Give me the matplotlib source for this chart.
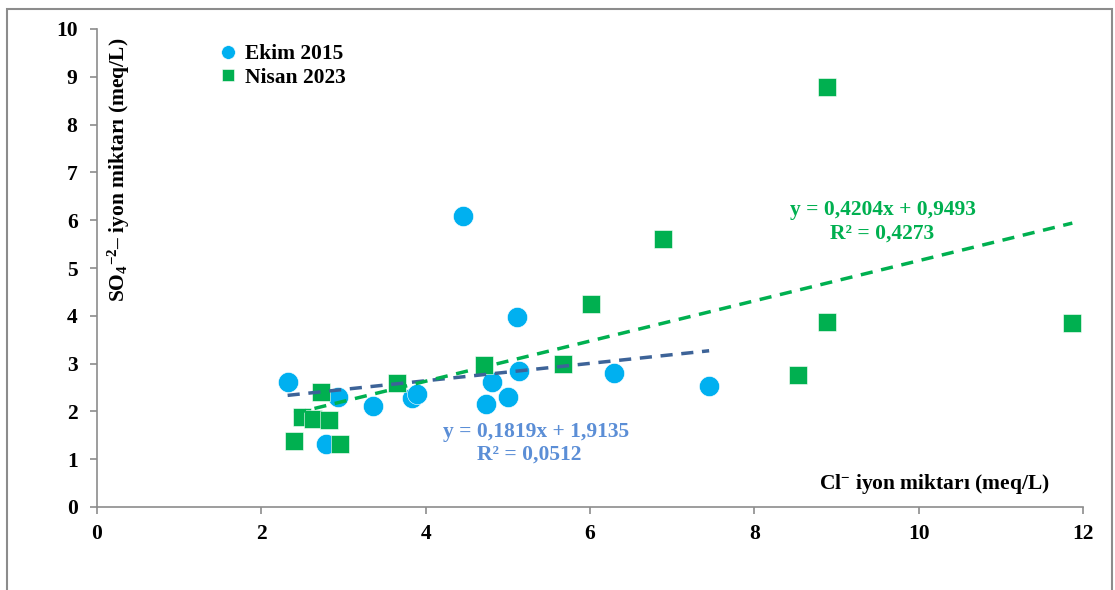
import numpy as np
import matplotlib.pyplot as plt
from matplotlib.patches import Rectangle

plt.rcParams['font.family'] = ['Liberation Serif', 'DejaVu Serif']
plt.rcParams['font.weight'] = 'bold'
plt.rcParams['mathtext.fontset'] = 'custom'
plt.rcParams['mathtext.rm'] = 'Liberation Serif:bold'
plt.rcParams['mathtext.it'] = 'Liberation Serif:bold'
plt.rcParams['mathtext.bf'] = 'Liberation Serif:bold'

# Ekim 2015 samples: Cl- vs SO4-2 (meq/L)
cl_2015 = [2.32, 2.93, 2.79, 3.36, 3.83, 3.90, 4.46, 4.74, 4.81, 5.00, 5.13, 5.11, 6.29, 7.45]
so4_2015 = [2.62, 2.30, 1.32, 2.11, 2.29, 2.36, 6.09, 2.15, 2.61, 2.30, 2.85, 3.97, 2.80, 2.53]

# Nisan 2023 samples
cl_2023 = [2.40, 2.49, 2.63, 2.82, 2.73, 2.96, 3.65, 4.71, 5.67, 6.01, 6.89, 8.53, 8.89, 8.88, 11.87]
so4_2023 = [1.38, 1.88, 1.84, 1.82, 2.41, 1.32, 2.59, 2.97, 2.99, 4.25, 5.61, 2.76, 3.87, 8.79, 3.85]

# linear trend coefficients (slope, intercept, r2)
fit_2015 = (0.1819, 1.9135, 0.0512)
fit_2023 = (0.4204, 0.9493, 0.4273)

c_blue = '#00B0F0'
c_green = '#00B050'
c_line15 = '#3D6398'
c_text15 = '#5B8ED6'
grey = '#8C8C8C'
fs = 15.5

fig = plt.figure(figsize=(11.15, 5.9), dpi=100)
ax = fig.add_axes([97/1115, 1-507/590, (1083-97)/1115, (507-29)/590])

# outer chart border
fig.patches.append(Rectangle((7/1115, -0.05), (1112-7)/1115, 1.05-9/590,
                             transform=fig.transFigure, fill=False,
                             edgecolor=grey, linewidth=1.5))

ax.plot(cl_2015, so4_2015, 'o', color=c_blue, markersize=14.5,
        markeredgecolor='white', markeredgewidth=0.4, label='Ekim 2015', zorder=3)
ax.plot(cl_2023, so4_2023, 's', color=c_green, markersize=13.5,
        markeredgecolor='white', markeredgewidth=0.4, label='Nisan 2023', zorder=4)

x15 = np.array([min(cl_2015), max(cl_2015)])
ax.plot(x15, fit_2015[0]*x15 + fit_2015[1], '--', color=c_line15, lw=2.5,
        dashes=(3.5, 2.5), zorder=5)
x23 = np.array([min(cl_2023), max(cl_2023)])
ax.plot(x23, fit_2023[0]*x23 + fit_2023[1], '--', color=c_green, lw=2.5,
        dashes=(3.5, 2.5), zorder=5)

ax.text(9.57, 6.21, 'y = 0,4204x + 0,9493', color=c_green, fontsize=fs,
        ha='center', va='center')
ax.text(9.55, 5.72, 'R² = 0,4273', color=c_green, fontsize=fs,
        ha='center', va='center')
ax.text(5.34, 1.57, 'y = 0,1819x + 1,9135', color=c_text15, fontsize=fs,
        ha='center', va='center')
ax.text(5.26, 1.10, 'R² = 0,0512', color=c_text15, fontsize=fs,
        ha='center', va='center')

ax.text(10.19, 0.48, r'Cl$^{-}$ iyon miktarı (meq/L)', fontsize=fs,
        ha='center', va='center')
ax.text(0.27, 7.05, r'SO$_4$$^{-2}$– iyon miktarı (meq/L)', fontsize=fs,
        rotation=90, ha='center', va='center')

ax.set_xlim(0, 12)
ax.set_ylim(0, 10)
ax.set_xticks(range(0, 13, 2))
ax.set_yticks(range(0, 11))
for s in ['top', 'right']:
    ax.spines[s].set_visible(False)
for s in ['left', 'bottom']:
    ax.spines[s].set_color(grey)
    ax.spines[s].set_linewidth(1.2)
ax.tick_params(direction='out', length=5, width=1.2, color=grey,
               labelsize=fs, pad=7)
ax.tick_params(axis='y', pad=9)

ax.legend(loc='upper left', bbox_to_anchor=(0.11, 0.986), frameon=False,
          fontsize=fs, handlelength=1.28, handletextpad=0.15,
          labelspacing=0.15, markerscale=0.68, borderaxespad=0)

fig.savefig('out.png', dpi=100)
